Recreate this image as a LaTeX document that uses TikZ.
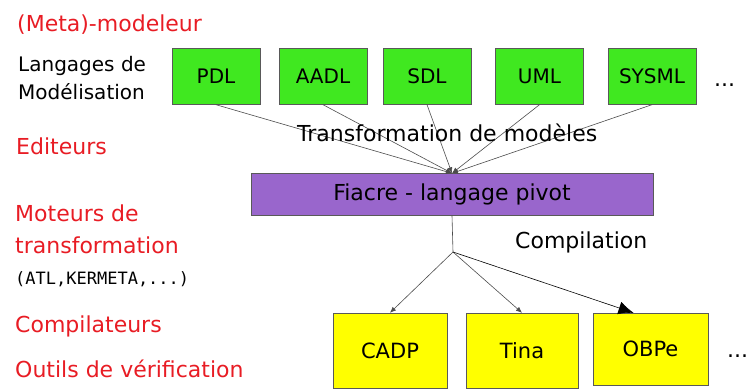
\documentclass[tikz,border=0pt]{standalone}
\usepackage{fontspec}
\setmainfont{DejaVu Sans}
\setmonofont{DejaVu Sans Mono}
\usetikzlibrary{arrows.meta}
\definecolor{langgreen}{RGB}{64,232,32}
\definecolor{pivotpurple}{RGB}{153,102,204}
\definecolor{toolyellow}{RGB}{255,255,0}
\definecolor{catred}{RGB}{232,28,36}
\begin{document}
\begin{tikzpicture}[
                x=1pt, y=-1pt,
                lang/.style={draw=black!65, fill=langgreen, minimum width=88pt, minimum height=56pt, inner sep=0pt, font=\fontsize{20}{24}\selectfont},
                tool/.style={draw=black!65, fill=toolyellow, minimum width=114pt, minimum height=75pt, inner sep=0pt, font=\fontsize{21}{25}\selectfont},
                cat/.style={anchor=base west, inner sep=0pt, text=catred, font=\fontsize{22}{26}\selectfont},
                note/.style={anchor=base west, inner sep=0pt, font=\fontsize{22}{26}\selectfont},
                arrow/.style={draw=black!70, line width=0.6pt, -{Latex[length=6pt, width=5pt]}}
            ]
            \useasboundingbox (0, 0) rectangle (749, 390);
            \node[cat] (meta) at (17, 32) {(Meta)-modeleur};
            \node[note, align=left, font=\fontsize{20}{28}\selectfont] (langages) at (18, 100) {Langages de\\Modélisation};
            \node[cat] (editeurs) at (16, 155) {Editeurs};
            \node[cat] (moteurs) at (15, 222) {Moteurs de};
            \node[cat] (transfo) at (15, 253) {transformation};
            \node[anchor=base west, inner sep=0pt, font=\ttfamily\fontsize{17}{20}\selectfont] (atl) at (15, 284) {(ATL,KERMETA,...)};
            \node[cat] (compilateurs) at (15, 332) {Compilateurs};
            \node[cat] (outils) at (15, 377) {Outils de vérification};
            \node[lang] (pdl) at (216, 76.5) {PDL};
            \node[lang] (aadl) at (323, 76.5) {AADL};
            \node[lang] (sdl) at (427, 76.5) {SDL};
            \node[lang] (uml) at (539.5, 76.5) {UML};
            \node[lang] (sysml) at (652, 76.5) {SYSML};
            \node[note] (moreLang) at (714, 87) {...};
            \node[draw=black!65, fill=pivotpurple, minimum width=402pt, minimum height=42pt, inner sep=0pt, font=\fontsize{22}{26}\selectfont] (pivot) at (452, 194.5) {Fiacre - langage pivot};
            \foreach \l in {pdl, aadl, sdl, uml, sysml}
                \draw[arrow] (\l.south) -- (pivot.north);
            \node[note] (transfoLabel) at (297, 142) {Transformation de modèles};
            \node[note] (compilLabel) at (515, 248) {Compilation};
            \node[tool] (cadp) at (390, 350.5) {CADP};
            \node[tool, minimum width=112pt] (tina) at (522, 350.5) {Tina};
            \node[tool, minimum width=115pt, minimum height=72pt] (obpe) at (650.5, 349) {OBPe};
            \node[note] (moreTool) at (727, 357) {...};
            \coordinate (split) at (453, 252);
            \draw[draw=black!70, line width=0.6pt] (pivot.south) -- (split);
            \draw[arrow] (split) -- (cadp.north);
            \draw[arrow] (split) -- (tina.north);
            \draw[arrow, draw=black, -{Latex[length=15pt, width=13pt]}] (split) -- ([xshift=-17pt]obpe.north);
        \end{tikzpicture}
\end{document}
